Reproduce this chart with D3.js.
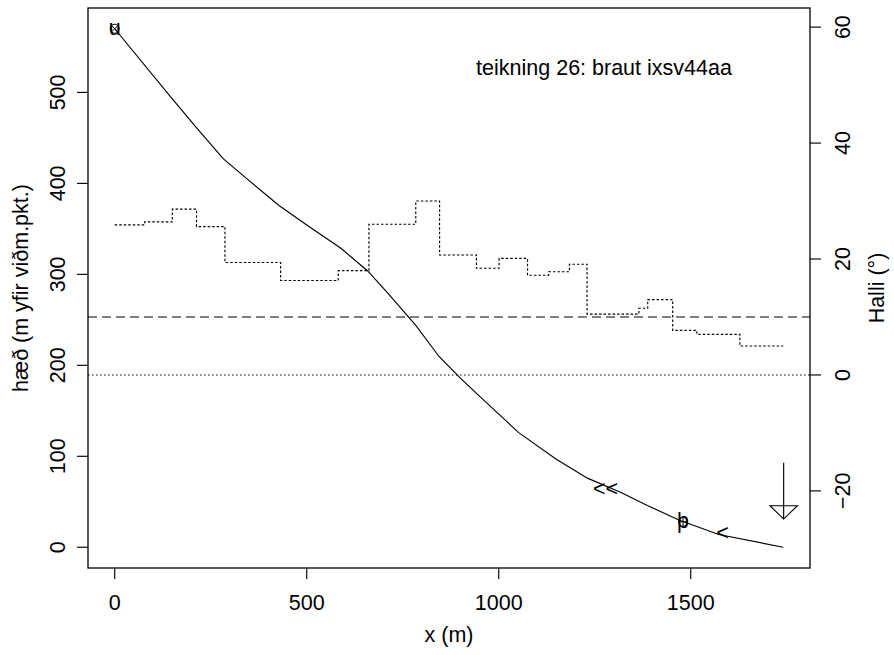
<!DOCTYPE html>
<html>
<head>
<meta charset="utf-8">
<script src="https://cdn.jsdelivr.net/npm/d3@7"></script>
<style>
  body { margin: 0; background: #fff; }
  svg { display: block; font-family: "Liberation Sans", Arial, Helvetica, sans-serif; }
</style>
</head>
<body>
<svg id="chart" width="894" height="655"></svg>
<script>
// profile of the track: distance along (m) and height (m)
const profX = [0, 144, 211, 283, 353, 427, 501, 588, 658, 710, 784, 844, 900, 963, 1052, 1149, 1231, 1320, 1387, 1469, 1573, 1741];
const profY = [570, 496, 462, 427, 402, 376, 354, 329, 304, 280, 244, 210, 186, 161, 126, 97, 76, 60, 46, 30, 14, 0];

// slope (degrees) as steps, breakpoints along x
const stepX = [0, 78, 150, 213, 287, 432, 582, 662, 784, 846, 942, 1001, 1075, 1130, 1184, 1230, 1365, 1388, 1453, 1516, 1628, 1741];
const stepSlope = [25.9, 26.4, 28.6, 25.6, 19.4, 16.3, 18.0, 26.0, 30.0, 20.7, 18.4, 20.1, 17.2, 17.8, 19.1, 10.5, 11.5, 13.0, 7.7, 7.0, 5.0];

// reference lines on the slope axis
const refSlopes = [10, 0];

// ticks
const xTicks = [0, 500, 1000, 1500];
const yTicks = [0, 100, 200, 300, 400, 500];
const slopeTicks = [-20, 0, 20, 40, 60];

// labelled points on the profile
const markLabels = ["u", "þ"];
const markX = [0, 1480];
const markY = [570, 28];
const markPch = ["x", "+"];

// direction arrows
const arrowText = ["<<", "<"];
const arrowX = [1278, 1583];
const arrowY = [64, 16];

// end arrow (down)
const endX = 1742;
const endTop = 93;
const endTip = 31;

const title = "teikning 26: braut ixsv44aa";

const W = 894, H = 655;
const box = { left: 88, right: 810, top: 8, bottom: 568 };

const svg = d3.select("#chart");
svg.append("rect").attr("width", W).attr("height", H).attr("fill", "#fff");

// R style 4% padding
const x = d3.scaleLinear().domain([-69.6, 1810.6]).range([box.left, box.right]);
const y = d3.scaleLinear().domain([-22.8, 592.8]).range([box.bottom, box.top]);
const y2 = d3.scaleLinear().domain([-33.3, 63.3]).range([box.bottom, box.top]);

const fs = 21.5;
const lw = 1.15;

// reference lines
svg.selectAll("line.ref")
    .data(refSlopes)
    .enter()
    .append("line")
    .attr("x1", box.left).attr("x2", box.right)
    .attr("y1", d => y2(d)).attr("y2", d => y2(d))
    .attr("stroke", "#000")
    .attr("stroke-width", lw)
    .attr("stroke-dasharray", d => d === 0 ? "1.5 2.5" : "9 5");

// slope steps
const stepPts = stepX.map((d, i) => [d, i < stepSlope.length ? stepSlope[i] : stepSlope[stepSlope.length - 1]]);
svg.append("path")
    .attr("d", d3.line().x(d => x(d[0])).y(d => y2(d[1])).curve(d3.curveStepAfter)(stepPts))
    .attr("fill", "none")
    .attr("stroke", "#000")
    .attr("stroke-width", lw)
    .attr("stroke-dasharray", "2.5 2");

// profile
svg.append("path")
    .datum(profX.map((d, i) => [d, profY[i]]))
    .attr("d", d3.line().x(d => x(d[0])).y(d => y(d[1])))
    .attr("fill", "none")
    .attr("stroke", "#000")
    .attr("stroke-width", lw);

// marked points
markX.forEach((mx, i) => {
    const cx = x(mx), cy = y(markY[i]);
    const g = svg.append("g");
    g.append("circle").attr("cx", cx).attr("cy", cy).attr("r", 4.5)
        .attr("fill", "none").attr("stroke", "#000").attr("stroke-width", 1);
    const r = 4.5;
    if (markPch[i] === "x") {
        const k = r * Math.SQRT1_2;
        g.append("line").attr("x1", cx - k).attr("y1", cy - k).attr("x2", cx + k).attr("y2", cy + k).attr("stroke", "#000");
        g.append("line").attr("x1", cx - k).attr("y1", cy + k).attr("x2", cx + k).attr("y2", cy - k).attr("stroke", "#000");
    } else {
        g.append("line").attr("x1", cx - r).attr("y1", cy).attr("x2", cx + r).attr("y2", cy).attr("stroke", "#000");
        g.append("line").attr("x1", cx).attr("y1", cy - r).attr("x2", cx).attr("y2", cy + r).attr("stroke", "#000");
    }
    g.append("text").attr("x", cx).attr("y", cy + 0.27 * fs)
        .attr("text-anchor", "middle").attr("font-size", fs).text(markLabels[i]);
});

// arrows along the track
svg.selectAll("text.arr")
    .data(arrowText)
    .enter()
    .append("text")
    .attr("x", (d, i) => x(arrowX[i]))
    .attr("y", (d, i) => y(arrowY[i]) + 0.34 * fs)
    .attr("text-anchor", "middle")
    .attr("font-size", fs)
    .text(d => d);

// end arrow
const ex = x(endX);
svg.append("line").attr("x1", ex).attr("x2", ex).attr("y1", y(endTop)).attr("y2", y(endTip))
    .attr("stroke", "#000").attr("stroke-width", lw);
svg.append("path")
    .attr("d", `M${ex - 13.7},${y(endTip) - 13.3}L${ex + 13.7},${y(endTip) - 13.3}L${ex},${y(endTip)}Z`)
    .attr("fill", "none").attr("stroke", "#000").attr("stroke-width", lw);

// box
svg.append("rect")
    .attr("x", box.left).attr("y", box.top)
    .attr("width", box.right - box.left).attr("height", box.bottom - box.top)
    .attr("fill", "none").attr("stroke", "#000").attr("stroke-width", 1.3);

// x axis
const tl = 11;
xTicks.forEach(t => {
    svg.append("line").attr("x1", x(t)).attr("x2", x(t)).attr("y1", box.bottom).attr("y2", box.bottom + tl)
        .attr("stroke", "#000").attr("stroke-width", lw);
    svg.append("text").attr("x", x(t)).attr("y", 609.5).attr("text-anchor", "middle")
        .attr("font-size", fs).text(t);
});

// left axis
yTicks.forEach(t => {
    svg.append("line").attr("x1", box.left - tl).attr("x2", box.left).attr("y1", y(t)).attr("y2", y(t))
        .attr("stroke", "#000").attr("stroke-width", lw);
    svg.append("text").attr("transform", `translate(64.5,${y(t)}) rotate(-90)`)
        .attr("text-anchor", "middle").attr("font-size", fs).text(t);
});

// right axis
slopeTicks.forEach(t => {
    svg.append("line").attr("x1", box.right).attr("x2", box.right + tl).attr("y1", y2(t)).attr("y2", y2(t))
        .attr("stroke", "#000").attr("stroke-width", lw);
    svg.append("text").attr("transform", `translate(850,${y2(t)}) rotate(-90)`)
        .attr("text-anchor", "middle").attr("font-size", fs).text(t < 0 ? "\u2212" + Math.abs(t) : t);
});

// axis titles
const midY = (box.top + box.bottom) / 2;
svg.append("text").attr("x", (box.left + box.right) / 2).attr("y", 642)
    .attr("text-anchor", "middle").attr("font-size", fs).text("x (m)");
svg.append("text").attr("transform", `translate(28,${midY}) rotate(-90)`)
    .attr("text-anchor", "middle").attr("font-size", fs).text("hæð (m yfir viðm.pkt.)");
svg.append("text").attr("transform", `translate(884,${midY}) rotate(-90)`)
    .attr("text-anchor", "middle").attr("font-size", fs).text("Halli (°)");

// title inside the plot
svg.append("text").attr("x", 604).attr("y", 75)
    .attr("text-anchor", "middle").attr("font-size", fs).text(title);
</script>
</body>
</html>
